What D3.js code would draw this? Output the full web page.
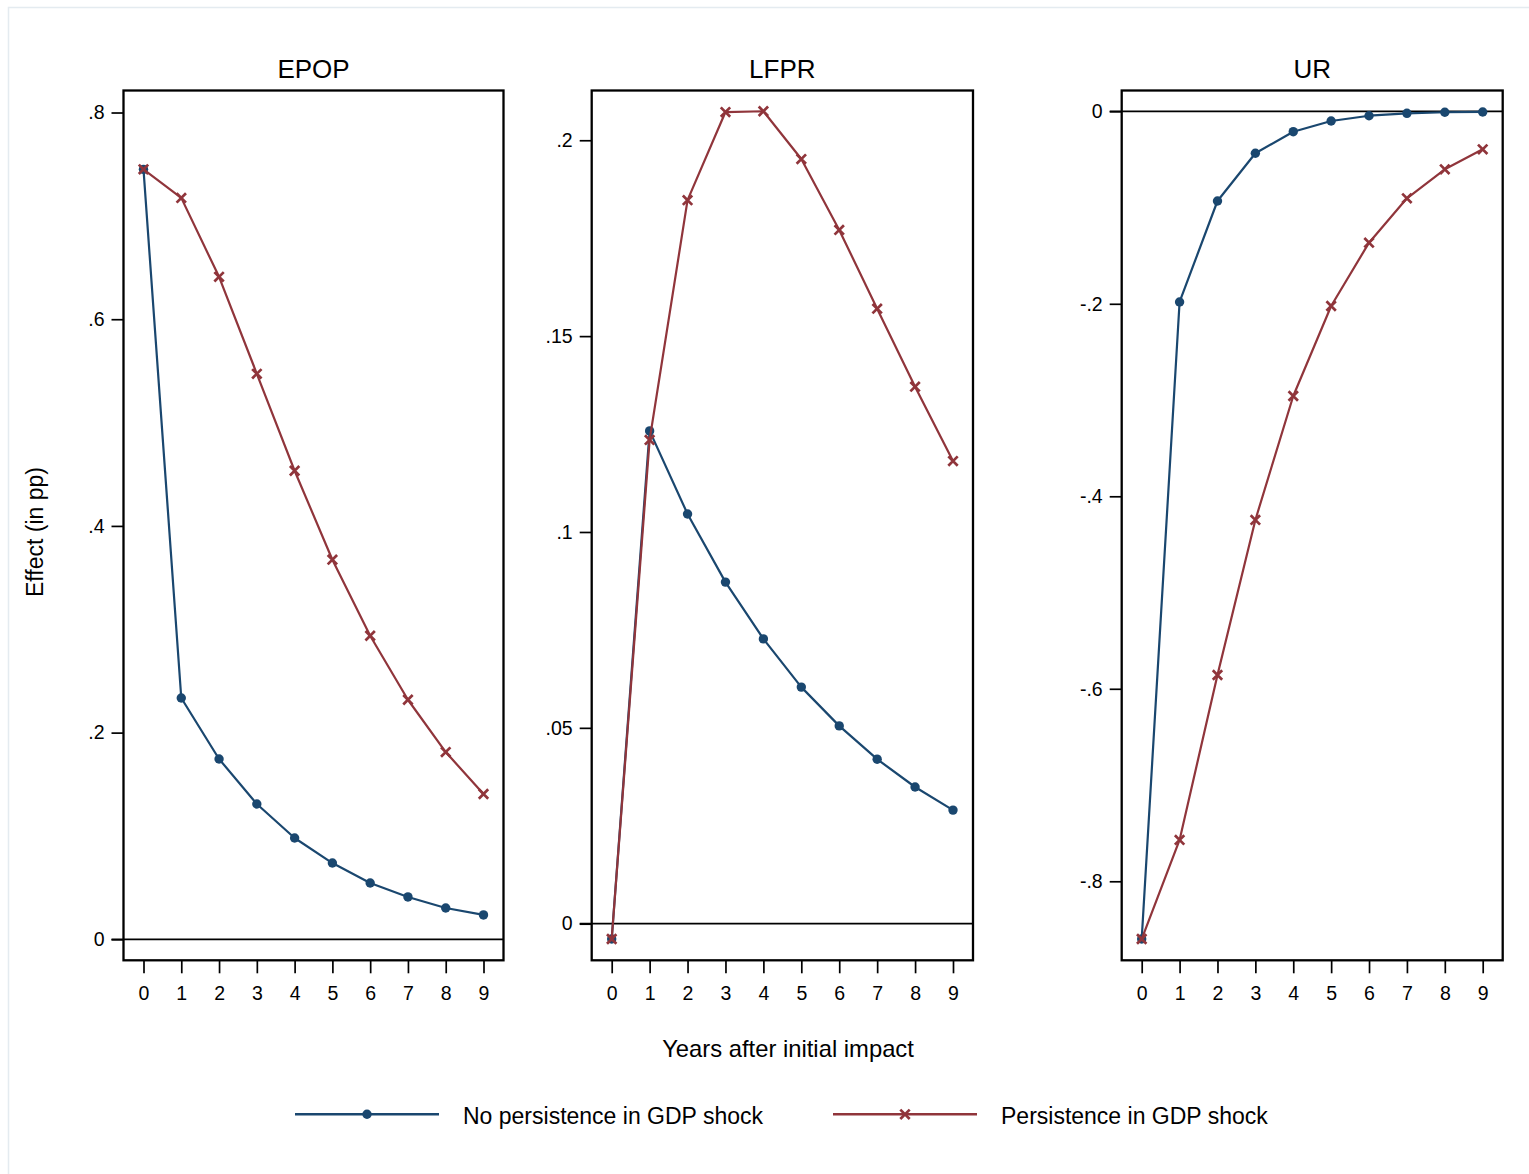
<!DOCTYPE html>
<html>
<head>
<meta charset="utf-8">
<script src="https://cdn.jsdelivr.net/npm/d3@7"></script>
<style>
  html, body { margin: 0; padding: 0; background: #ffffff; }
  svg { display: block; }
  text { font-family: "Liberation Sans", Arial, Helvetica, sans-serif; fill: #000; }
</style>
</head>
<body>
<svg id="chart" width="1529" height="1174"></svg>
<script>
// ---------------- DATA ----------------
const years = [0, 1, 2, 3, 4, 5, 6, 7, 8, 9];
const panelTitles = ["EPOP", "LFPR", "UR"];
const seriesNames = ["No persistence in GDP shock", "Persistence in GDP shock"];

const epopNoPersist = [0.745, 0.2335, 0.1745, 0.1309, 0.098, 0.0738, 0.0545, 0.041, 0.0303, 0.0236];
const epopPersist   = [0.745, 0.7174, 0.641, 0.5472, 0.4534, 0.3673, 0.2937, 0.2318, 0.1812, 0.1406];

const lfprNoPersist = [-0.0039, 0.1258, 0.1046, 0.0872, 0.0727, 0.0604, 0.0505, 0.042, 0.0349, 0.029];
const lfprPersist   = [-0.0039, 0.1235, 0.1847, 0.2072, 0.2074, 0.1952, 0.1771, 0.157, 0.1371, 0.1181];

const urNoPersist = [-0.86, -0.1981, -0.0932, -0.0436, -0.0212, -0.0101, -0.0046, -0.0021, -0.001, -0.0007];
const urPersist   = [-0.86, -0.757, -0.5857, -0.4246, -0.2958, -0.2023, -0.1365, -0.0904, -0.0603, -0.0395];

const epopTicks = [0, 0.2, 0.4, 0.6, 0.8];
const epopTickLabels = ["0", ".2", ".4", ".6", ".8"];
const lfprTicks = [0, 0.05, 0.1, 0.15, 0.2];
const lfprTickLabels = ["0", ".05", ".1", ".15", ".2"];
const urTicks = [-0.8, -0.6, -0.4, -0.2, 0];
const urTickLabels = ["-.8", "-.6", "-.4", "-.2", "0"];

const epopDomain = [-0.0203, 0.8213];
const lfprDomain = [-0.00934, 0.2127];
const urDomain = [-0.8821, 0.0216];

const xTitle = "Years after initial impact";
const yTitle = "Effect (in pp)";

// ---------------- STYLE / LAYOUT ----------------
const colors = ["#1a476f", "#90353b"];
const panelLeft = [123.5, 591.7, 1121.7];
const panelRight = [503.5, 973, 1502.7];
const plotTop = 90.5, plotBottom = 960.3;
const xPad = 20;
const tickLen = 12;
const tickFont = 19.5;
const font = '"Liberation Sans", Arial, Helvetica, sans-serif';

const panels = [
  { title: panelTitles[0], series: [epopNoPersist, epopPersist], ticks: epopTicks, labels: epopTickLabels, domain: epopDomain },
  { title: panelTitles[1], series: [lfprNoPersist, lfprPersist], ticks: lfprTicks, labels: lfprTickLabels, domain: lfprDomain },
  { title: panelTitles[2], series: [urNoPersist, urPersist], ticks: urTicks, labels: urTickLabels, domain: urDomain }
];

const svg = d3.select("#chart");

// outer frame
svg.append("rect")
  .attr("x", 8.5).attr("y", 7.5)
  .attr("width", 1540).attr("height", 1180)
  .attr("fill", "#ffffff")
  .attr("stroke", "#e4ebf0")
  .attr("stroke-width", 1.5);

function drawMarker(g, kind, cx, cy, color) {
  if (kind === 0) {
    g.append("circle").attr("cx", cx).attr("cy", cy).attr("r", 4.7).attr("fill", color);
  } else {
    const s = 4.7;
    g.append("path")
      .attr("d", `M${cx - s},${cy - s}L${cx + s},${cy + s}M${cx - s},${cy + s}L${cx + s},${cy - s}`)
      .attr("stroke", color).attr("stroke-width", 2.7).attr("fill", "none");
  }
}

panels.forEach((p, i) => {
  const L = panelLeft[i], R = panelRight[i];
  const x = d3.scaleLinear().domain([years[0], years[years.length - 1]]).range([L + xPad, R - xPad]);
  const y = d3.scaleLinear().domain(p.domain).range([plotBottom, plotTop]);
  const g = svg.append("g");

  // zero line
  g.append("line")
    .attr("x1", L - tickLen).attr("x2", R)
    .attr("y1", y(0)).attr("y2", y(0))
    .attr("stroke", "#000").attr("stroke-width", 1.7);

  // y axis
  const yAxis = d3.axisLeft(y)
    .tickValues(p.ticks)
    .tickFormat((d, k) => p.labels[k])
    .tickSize(tickLen)
    .tickPadding(7);
  const ya = g.append("g").attr("transform", `translate(${L},0)`).call(yAxis);
  ya.select(".domain").remove();
  ya.selectAll(".tick line").attr("stroke", "#000").attr("stroke-width", 1.7);
  ya.selectAll(".tick text").attr("font-size", tickFont).attr("font-family", font).attr("fill", "#000");

  // x axis
  const xAxis = d3.axisBottom(x)
    .tickValues(years)
    .tickFormat(d3.format("d"))
    .tickSize(13)
    .tickPadding(13);
  const xa = g.append("g").attr("transform", `translate(0,${plotBottom})`).call(xAxis);
  xa.select(".domain").remove();
  xa.selectAll(".tick line").attr("stroke", "#000").attr("stroke-width", 1.7);
  xa.selectAll(".tick text").attr("font-size", tickFont).attr("font-family", font).attr("fill", "#000");

  // series
  p.series.forEach((vals, s) => {
    const line = d3.line().x((d, k) => x(years[k])).y(d => y(d));
    g.append("path")
      .datum(vals)
      .attr("d", line)
      .attr("fill", "none")
      .attr("stroke", colors[s])
      .attr("stroke-width", 2.2)
      .attr("stroke-linejoin", "round");
    vals.forEach((v, k) => drawMarker(g, s, x(years[k]), y(v), colors[s]));
  });

  // plot box
  g.append("rect")
    .attr("x", L).attr("y", plotTop)
    .attr("width", R - L).attr("height", plotBottom - plotTop)
    .attr("fill", "none").attr("stroke", "#000").attr("stroke-width", 2.3);

  // title
  g.append("text")
    .attr("x", (L + R) / 2).attr("y", 78)
    .attr("text-anchor", "middle")
    .attr("font-size", 26)
    .text(p.title);
});

// axis titles
svg.append("text")
  .attr("x", 788).attr("y", 1057)
  .attr("text-anchor", "middle")
  .attr("font-size", 23.8)
  .text(xTitle);

svg.append("text")
  .attr("transform", "translate(43,532) rotate(-90)")
  .attr("text-anchor", "middle")
  .attr("font-size", 23)
  .text(yTitle);

// legend
const legendItems = [
  { x1: 295, x2: 439, mx: 367, tx: 463 },
  { x1: 833, x2: 977, mx: 905, tx: 1001 }
];
const legendY = 1114.3;
legendItems.forEach((it, s) => {
  const g = svg.append("g");
  g.append("line")
    .attr("x1", it.x1).attr("x2", it.x2)
    .attr("y1", legendY).attr("y2", legendY)
    .attr("stroke", colors[s]).attr("stroke-width", 2.4);
  drawMarker(g, s, it.mx, legendY, colors[s]);
  g.append("text")
    .attr("x", it.tx).attr("y", legendY + 10)
    .attr("font-size", 23)
    .text(seriesNames[s]);
});
</script>
</body>
</html>
